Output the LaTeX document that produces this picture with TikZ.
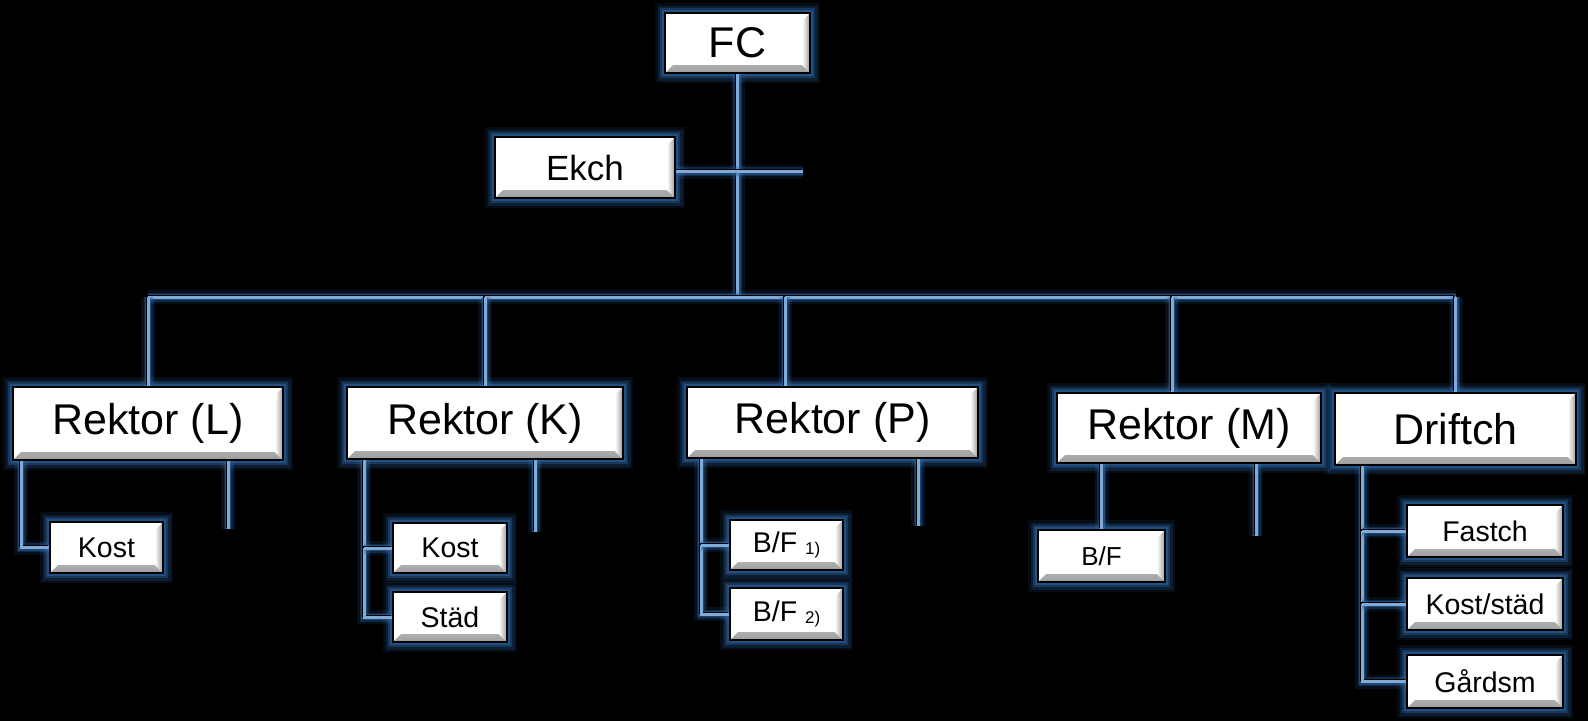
\documentclass[tikz,border=0pt]{standalone}
\usepackage{fontspec}
\setmainfont{Liberation Sans}
\usetikzlibrary{calc}
\definecolor{glowblue}{RGB}{45,105,170}
\definecolor{lineblue}{RGB}{130,170,215}
\tikzstyle{box}=[draw=black,line width=2pt,fill=white,inner sep=0pt,
  preaction={draw=glowblue,line width=20pt,opacity=0.12},
  preaction={draw=glowblue,line width=15pt,opacity=0.2},
  preaction={draw=glowblue,line width=10pt,opacity=0.35},
  preaction={draw=glowblue,line width=6pt,opacity=0.5},
  path picture={
    \shade[top color=white,bottom color=gray!75]
      (path picture bounding box.south west) -- (path picture bounding box.south east)
      -- ($(path picture bounding box.south east)+(-8pt,8pt)$)
      -- ($(path picture bounding box.south west)+(8pt,8pt)$) -- cycle;
    \shade[left color=white,right color=gray!80]
      (path picture bounding box.south east) -- (path picture bounding box.north east)
      -- ($(path picture bounding box.north east)+(-8pt,-8pt)$)
      -- ($(path picture bounding box.south east)+(-8pt,8pt)$) -- cycle;
  }]
\tikzstyle{big}=[box,font=\fontsize{43}{50}\selectfont]
\tikzstyle{mid}=[box,font=\fontsize{35}{42}\selectfont]
\tikzstyle{small}=[box,font=\fontsize{28.5}{34}\selectfont]
\tikzstyle{link}=[draw=lineblue,line width=3pt,
  preaction={draw=glowblue,line width=14pt,opacity=0.15},
  preaction={draw=glowblue,line width=9pt,opacity=0.3},
  preaction={draw=glowblue,line width=6pt,opacity=0.45},
  preaction={draw=black,line width=2pt,transform canvas={shift={(-1.5pt,1.5pt)}}}]
\newcommand{\idx}[1]{\raisebox{-2pt}{\fontsize{17}{19}\selectfont #1}}

\begin{document}
\begin{tikzpicture}[x=1pt,y=-1pt]
    \useasboundingbox (0,0) rectangle (1588,721);
    \fill[black] (0,0) rectangle (1588,721);

    % top
    \node[big,minimum width=145pt,minimum height=60pt] (fc) at (737.5,43) {FC};
    \node[mid,minimum width=180pt,minimum height=61pt] (ek) at (585,167.5) {Ekch};

    % second row
    \node[big,minimum width=270pt,minimum height=73pt] (rL) at (148,423.5) {Rektor (L)};
    \node[big,minimum width=276pt,minimum height=72pt] (rK) at (485,423) {Rektor (K)};
    \node[big,minimum width=291pt,minimum height=71pt] (rP) at (832.5,422.5) {Rektor (P)};
    \node[big,minimum width=264pt,minimum height=70pt] (rM) at (1189,428) {Rektor (M)};
    \node[big,minimum width=241pt,minimum height=72pt] (dr) at (1455.5,429) {Driftch};

    % third row
    \node[small,minimum width=113pt,minimum height=51pt] (kL) at (106.5,547.5) {Kost};
    \node[small,minimum width=114pt,minimum height=50pt] (kK) at (450,548) {Kost};
    \node[small,minimum width=114pt,minimum height=50pt] (sK) at (450,617) {Städ};
    \node[small,minimum width=113pt,minimum height=50pt] (b1) at (786.5,545) {B/F \idx{1)}};
    \node[small,minimum width=113pt,minimum height=52pt] (b2) at (786.5,614) {B/F \idx{2)}};
    \node[small,font=\fontsize{26}{31}\selectfont,minimum width=127pt,minimum height=52pt] (bM) at (1101.5,556) {B/F};
    \node[small,minimum width=156pt,minimum height=52pt] (fa) at (1485,531) {Fastch};
    \node[small,minimum width=156pt,minimum height=52pt] (ks) at (1485,604) {Kost/städ};
    \node[small,minimum width=156pt,minimum height=53pt] (ga) at (1485,681.5) {Gårdsm};

    % bus
    \coordinate (bus) at (0,297);
    \draw[link] (fc.south) -- (fc.south |- bus);
    \draw[link] ([yshift=-4pt]ek.east) -- ++(127,0) coordinate (ekend);
    \draw[link] (rL.north |- bus) -- (dr.north |- bus);
    \coordinate (pIn) at ([xshift=-47.5pt]rP.north);
    \coordinate (mIn) at ([xshift=-17pt]rM.north);
    \draw[link] (rL.north |- bus) -- (rL.north);
    \draw[link] (rK.north |- bus) -- (rK.north);
    \draw[link] (pIn |- bus) -- (pIn);
    \draw[link] (mIn |- bus) -- (mIn);
    \draw[link] (dr.north |- bus) -- (dr.north);

    % Rektor (L)
    \draw[link] ([xshift=9pt]rL.south west) |- (kL.west);
    \draw[link] ([xshift=-56pt]rL.south east) -- ++(0,68);
    % Rektor (K)
    \coordinate (kLine) at ([xshift=18pt]rK.south west);
    \draw[link] (kLine) |- (sK.west);
    \draw[link] (kLine |- kK.west) -- (kK.west);
    \draw[link] ([xshift=-89pt]rK.south east) -- ++(0,72);
    % Rektor (P)
    \coordinate (pLine) at ([xshift=15pt]rP.south west);
    \draw[link] (pLine) |- (b2.west);
    \draw[link] (pLine |- b1.west) -- (b1.west);
    \draw[link] ([xshift=-61pt]rP.south east) -- ++(0,67);
    % Rektor (M)
    \draw[link] (bM.north |- rM.south) -- (bM.north);
    \draw[link] ([xshift=-66pt]rM.south east) -- ++(0,72);
    % Driftch
    \coordinate (dLine) at ([xshift=28pt]dr.south west);
    \draw[link] (dLine) |- (ga.west);
    \draw[link] (dLine |- fa.west) -- (fa.west);
    \draw[link] (dLine |- ks.west) -- (ks.west);
\end{tikzpicture}
\end{document}
